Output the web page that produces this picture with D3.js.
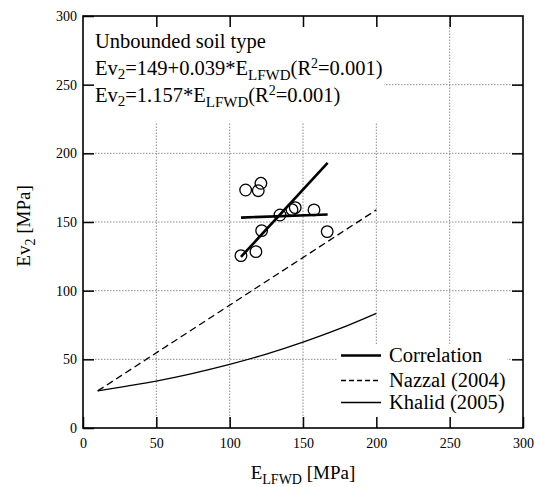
<!DOCTYPE html>
<html><head><meta charset="utf-8">
<script src="https://cdn.jsdelivr.net/npm/d3@7"></script>
<style>body{margin:0;background:#fff}svg{display:block}
svg text{font-family:"Liberation Serif","Times New Roman",Times,"DejaVu Serif",serif !important;}</style>
</head><body><svg id="c" width="535" height="487"></svg>
<script>
// ---- data ----
const pointsLFWD = [110.9, 119.5, 121.3, 107.7, 117.9, 121.8, 134.3, 142.5, 144.7, 157.5, 166.5];
const pointsEv2  = [173.3, 172.8, 178.2, 125.5, 128.4, 143.7, 155.1, 159.0, 160.5, 158.8, 143.0];
const fitLinearX = [107.7, 166.8];          // Ev2 = 149 + 0.039*E
const fitLinearY = [153.2, 155.5];
const fitOriginX = [107.7, 166.8];          // Ev2 = 1.157*E
const fitOriginY = [124.6, 193.0];
const nazzalX = [10, 200];
const nazzalY = [27, 158.8];
const khalidX = [10, 30, 50, 75, 100, 125, 150, 175, 200];
const khalidY = [27, 30.5, 34.2, 39.8, 46.3, 53.8, 62.5, 72.3, 83.5];
const xTicks = [0, 50, 100, 150, 200, 250, 300];
const yTicks = [0, 50, 100, 150, 200, 250, 300];
const gridVals = [50, 100, 150, 200, 250];
const legendLabels = ["Correlation", "Nazzal (2004)", "Khalid (2005)"];

const svg = d3.select("#c");
const L = 83, R = 523, T = 16, B = 428;
const x = d3.scaleLinear().domain([0, 300]).range([L, R]);
const y = d3.scaleLinear().domain([0, 300]).range([B, T]);

// grid
const grid = svg.append("g").attr("stroke", "#8c8c8c").attr("stroke-width", 1).attr("stroke-dasharray", "1.5,1.5");
grid.selectAll("line.v").data(gridVals).join("line").attr("class", "v")
  .attr("x1", d => x(d)).attr("x2", d => x(d)).attr("y1", y(0)).attr("y2", y(300));
grid.selectAll("line.h").data(gridVals).join("line").attr("class", "h")
  .attr("y1", d => y(d)).attr("y2", d => y(d)).attr("x1", x(0)).attr("x2", x(300));

// white boxes for annotation and legend
svg.append("rect").attr("x", L).attr("y", T).attr("width", 384 - L).attr("height", 122 - T).attr("fill", "#fff");
svg.append("rect").attr("x", 337).attr("y", 344).attr("width", 507 - 337).attr("height", B - 344).attr("fill", "#fff");

// reference curves
const line = d3.line().x(d => x(d[0])).y(d => y(d[1]));
svg.append("path").datum(nazzalX.map((v, i) => [v, nazzalY[i]])).attr("d", line)
  .attr("fill", "none").attr("stroke", "#000").attr("stroke-width", 1.3).attr("stroke-dasharray", "7,4");
const curve = d3.line().x(d => x(d[0])).y(d => y(d[1])).curve(d3.curveMonotoneX);
svg.append("path").datum(khalidX.map((v, i) => [v, khalidY[i]])).attr("d", curve)
  .attr("fill", "none").attr("stroke", "#000").attr("stroke-width", 1.3);

// points
svg.append("g").selectAll("circle").data(pointsLFWD.map((v, i) => [v, pointsEv2[i]])).join("circle")
  .attr("cx", d => x(d[0])).attr("cy", d => y(d[1])).attr("r", 5.8)
  .attr("fill", "none").attr("stroke", "#000").attr("stroke-width", 1.3);

// correlation lines
svg.append("path").datum(fitLinearX.map((v, i) => [v, fitLinearY[i]])).attr("d", line)
  .attr("fill", "none").attr("stroke", "#000").attr("stroke-width", 2.6);
svg.append("path").datum(fitOriginX.map((v, i) => [v, fitOriginY[i]])).attr("d", line)
  .attr("fill", "none").attr("stroke", "#000").attr("stroke-width", 2.6);

// axes
function styleAxis(g) {
  g.attr("font-family", null).attr("font-size", null);
  g.select(".domain").remove();
  g.selectAll(".tick line").attr("stroke", "#000").attr("stroke-width", 1.5);
  g.selectAll(".tick text").attr("font-size", 14).attr("fill", "#000");
}
svg.append("g").attr("transform", `translate(0,${B})`)
  .call(d3.axisBottom(x).tickValues(xTicks).tickSizeInner(-11).tickSizeOuter(0).tickPadding(10)).call(styleAxis);
svg.append("g").attr("transform", `translate(${L},0)`)
  .call(d3.axisLeft(y).tickValues(yTicks).tickSizeInner(-11).tickSizeOuter(0).tickPadding(6)).call(styleAxis);
svg.append("g").attr("transform", `translate(0,${T})`)
  .call(d3.axisTop(x).tickValues(gridVals).tickSizeInner(-11).tickSizeOuter(0).tickFormat("")).call(styleAxis);
svg.append("g").attr("transform", `translate(${R},0)`)
  .call(d3.axisRight(y).tickValues(gridVals).tickSizeInner(-11).tickSizeOuter(0).tickFormat("")).call(styleAxis);
svg.append("rect").attr("x", L).attr("y", T).attr("width", R - L).attr("height", B - T)
  .attr("fill", "none").attr("stroke", "#000").attr("stroke-width", 1.6);

// annotation
const ann = svg.append("g").attr("font-size", 20.5).attr("fill", "#000");
ann.append("text").attr("x", 95).attr("y", 48).text("Unbounded soil type");
function eqn(yy, mid) {
  const t = ann.append("text").attr("x", 95).attr("y", yy);
  t.append("tspan").text("Ev");
  t.append("tspan").attr("font-size", 15).attr("dy", 4).text("2");
  t.append("tspan").attr("dy", -4).text(mid);
  t.append("tspan").attr("font-size", 15).attr("dy", 5).text("LFWD");
  t.append("tspan").attr("dy", -5).text("(R");
  t.append("tspan").attr("font-size", 14).attr("dy", -7).text("2");
  t.append("tspan").attr("dy", 7).text("=0.001)");
}
eqn(75, "=149+0.039*E");
eqn(102, "=1.157*E");

// legend
const lg = svg.append("g").attr("font-size", 20.5);
const rowsY = [355.5, 380.5, 402.5];
const styles = [{w: 2.6, d: null}, {w: 1.3, d: "5,3"}, {w: 1.3, d: null}];
legendLabels.forEach((lab, i) => {
  lg.append("line").attr("x1", 341).attr("x2", 381).attr("y1", rowsY[i]).attr("y2", rowsY[i])
    .attr("stroke", "#000").attr("stroke-width", styles[i].w).attr("stroke-dasharray", styles[i].d);
  lg.append("text").attr("x", 389).attr("y", rowsY[i] + 6.5).text(lab);
});

// axis titles
const xt = svg.append("text").attr("font-size", 19).attr("text-anchor", "middle")
  .attr("x", (L + R) / 2).attr("y", 479);
xt.append("tspan").text("E");
xt.append("tspan").attr("font-size", 14).attr("dy", 5).text("LFWD");
xt.append("tspan").attr("dy", -5).text(" [MPa]");
const yt = svg.append("text").attr("font-size", 19).attr("text-anchor", "middle")
  .attr("transform", `translate(30,${(T + B) / 2 + 4}) rotate(-90)`);
yt.append("tspan").text("Ev");
yt.append("tspan").attr("font-size", 14).attr("dy", 5).text("2");
yt.append("tspan").attr("dy", -5).text(" [MPa]");
</script></body></html>
